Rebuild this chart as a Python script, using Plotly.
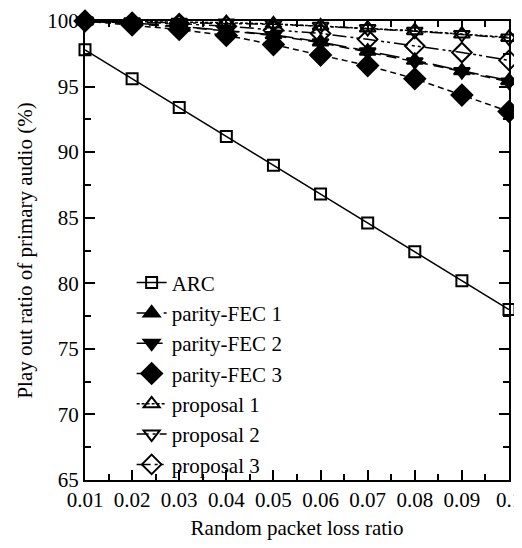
import plotly.graph_objects as go

loss_ratio = [0.01, 0.02, 0.03, 0.04, 0.05, 0.06, 0.07, 0.08, 0.09, 0.1]
x_labels = ["0.01", "0.02", "0.03", "0.04", "0.05", "0.06", "0.07", "0.08", "0.09", "0.1"]

arc = [97.8, 95.6, 93.4, 91.2, 89.0, 86.8, 84.6, 82.4, 80.2, 78.0]
parity_fec_1 = [100.0, 99.85, 99.6, 99.3, 98.95, 98.4, 97.7, 97.0, 96.2, 95.45]
parity_fec_2 = [100.0, 99.8, 99.55, 99.25, 98.9, 98.35, 97.65, 96.9, 96.15, 95.35]
parity_fec_3 = [100.0, 99.7, 99.35, 98.9, 98.2, 97.4, 96.6, 95.6, 94.35, 93.1]
proposal_1 = [100.0, 99.97, 99.93, 99.87, 99.78, 99.62, 99.46, 99.26, 99.0, 98.75]
proposal_2 = [100.0, 99.95, 99.9, 99.85, 99.75, 99.6, 99.42, 99.22, 98.97, 98.7]
proposal_3 = [100.0, 99.9, 99.8, 99.6, 99.3, 99.05, 98.6, 98.1, 97.6, 97.0]

series = [
    ("ARC", arc, "solid", "square-open", 11),
    ("parity-FEC 1", parity_fec_1, "20px,7px", "triangle-up", 14),
    ("parity-FEC 2", parity_fec_2, "10px,6px", "triangle-down", 14),
    ("parity-FEC 3", parity_fec_3, "6px,4px", "diamond", 16),
    ("proposal 1", proposal_1, "3px,2px", "triangle-up-open", 14),
    ("proposal 2", proposal_2, "12px,4px,3px,4px", "triangle-down-open", 14),
    ("proposal 3", proposal_3, "14px,4px,3px,3px,3px,4px", "diamond-open", 15),
]

serif = "Liberation Serif"

fig = go.Figure()
for name, ys, dash, symbol, size in series:
    fig.add_trace(go.Scatter(
        x=loss_ratio, y=ys, name=name, mode="lines+markers",
        line=dict(color="black", width=1.5, dash=dash),
        marker=dict(symbol=symbol, size=size, color="black",
                    line=dict(color="black", width=2)),
        cliponaxis=False,
    ))

axis_style = dict(
    showline=True, linecolor="black", linewidth=2, mirror="ticks",
    ticks="inside", ticklen=10, tickwidth=1.5, tickcolor="black",
    showgrid=False, zeroline=False, automargin=False,
    ticklabeloverflow="allow",
    tickfont=dict(family=serif, size=21, color="black"),
)

fig.update_xaxes(
    range=[0.01, 0.1], tickvals=loss_ratio, ticktext=x_labels,
    minor=dict(ticks="inside", ticklen=6, tickwidth=1.5, tickcolor="black",
               dtick=0.005, tick0=0.005),
    title=dict(text="Random packet loss ratio", standoff=20,
               font=dict(family=serif, size=21, color="black")),
    **axis_style,
)
fig.update_yaxes(
    range=[65, 100], tick0=65, dtick=5,
    minor=dict(ticks="inside", ticklen=6, tickwidth=1.5, tickcolor="black",
               dtick=2.5, tick0=65),
    title=dict(text="Play out ratio of primary audio (%)", standoff=9,
               font=dict(family=serif, size=21, color="black")),
    **axis_style,
)

# the page body keeps an 8px margin, so the figure is sized to fit inside it
fig.update_layout(
    width=506, height=532,
    margin=dict(l=77, r=5, t=13, b=60),
    paper_bgcolor="white", plot_bgcolor="white",
    font=dict(family=serif, size=21, color="black"),
    showlegend=True,
    legend=dict(x=0.11, y=0.474, xanchor="left", yanchor="top",
                bgcolor="rgba(0,0,0,0)", tracegroupgap=0,
                font=dict(family=serif, size=21, color="black")),
)

fig.write_html("out.html", config={"displayModeBar": False})
